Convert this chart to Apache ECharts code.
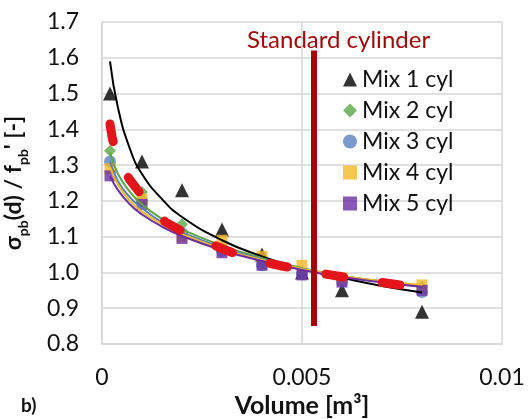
<!DOCTYPE html>
<html>
<head>
<meta charset="utf-8">
<script src="https://cdn.jsdelivr.net/npm/echarts@6/dist/echarts.min.js"></script>
<style>
	html, body { margin: 0; padding: 0; background: #fff; }
	#chart { width: 529px; height: 419px; }
</style>
</head>
<body>
<div id="chart"></div>
<script>
// 试件体积 [m3]
var volume = [0.0002, 0.001, 0.002, 0.003, 0.004, 0.005, 0.006, 0.008];
var mixNames = ['Mix 1 cyl', 'Mix 2 cyl', 'Mix 3 cyl', 'Mix 4 cyl', 'Mix 5 cyl'];
var mix1 = [1.50, 1.31, 1.23, 1.12, 1.05, 1.00, 0.95, 0.89];
var mix2 = [1.34, 1.225, 1.135, 1.07, 1.03, 1.00, 0.98, 0.96];
var mix3 = [1.31, 1.20, 1.11, 1.06, 1.02, 0.995, 0.975, 0.945];
var mix4 = [1.29, 1.205, 1.10, 1.09, 1.045, 1.02, 0.985, 0.965];
var mix5 = [1.27, 1.19, 1.095, 1.055, 1.02, 0.993, 0.973, 0.95];

// 趋势线
var fitVolume = [0.0002, 0.0004, 0.0007, 0.001, 0.0015, 0.002, 0.003, 0.004, 0.005, 0.006, 0.007, 0.008];
var fit1 = [1.59, 1.46, 1.345, 1.275, 1.205, 1.155, 1.09, 1.045, 1.01, 0.985, 0.962, 0.944];
var fit2 = [1.335, 1.275, 1.225, 1.19, 1.15, 1.12, 1.075, 1.04, 1.012, 0.99, 0.975, 0.962];
var fit3 = [1.31, 1.255, 1.21, 1.18, 1.14, 1.112, 1.07, 1.037, 1.01, 0.99, 0.974, 0.96];
var fit4 = [1.295, 1.245, 1.2, 1.17, 1.135, 1.107, 1.066, 1.035, 1.01, 0.99, 0.976, 0.965];
var fit5 = [1.27, 1.23, 1.19, 1.162, 1.128, 1.102, 1.062, 1.032, 1.007, 0.987, 0.972, 0.96];

// 红色虚线
var meanVolume = [0.0002, 0.00025, 0.0003, 0.0004, 0.0005, 0.0007, 0.001, 0.0013, 0.0016, 0.002, 0.0025, 0.003,
	0.0035, 0.004, 0.0045, 0.005, 0.0055, 0.006, 0.007, 0.0075, 0.008];
var fitMean = [1.415, 1.38, 1.355, 1.32, 1.295, 1.258, 1.215, 1.17, 1.14, 1.115, 1.09, 1.067,
	1.045, 1.03, 1.018, 1.008, 0.997, 0.988, 0.972, 0.964, 0.952];

// 标准圆柱体积
var standardVolume = [0.0053, 0.0053];
var standardRange = [1.62, 0.85];

var xTicks = { min: 0, max: 0.01, interval: 0.005 };
var yTicks = { min: 0.8, max: 1.7, interval: 0.1 };

var colors = ['#000000', '#5aa646', '#5b80c0', '#f2b824', '#6a2fa0'];
var symbols = ['triangle', 'diamond', 'circle', 'rect', 'rect'];
var symbolSizes = [14, 12, 12, 11, 11];

function pairs(xs, ys) {
	return xs.map(function(x, i) {
		return [x, ys[i]];
	});
}

function buildSeries() {
	var mixes = [mix1, mix2, mix3, mix4, mix5];
	var fits = [fit1, fit2, fit3, fit4, fit5];
	var list = [];
	mixes.forEach(function(vals, i) {
		list.push({
			name: mixNames[i],
			type: 'scatter',
			symbol: symbols[i],
			symbolSize: symbolSizes[i],
			itemStyle: { color: colors[i] },
			data: pairs(volume, vals),
			z: 2
		});
	});
	fits.forEach(function(vals, i) {
		list.push({
			type: 'line',
			smooth: true,
			showSymbol: false,
			silent: true,
			lineStyle: { color: colors[i], width: 2 },
			data: pairs(fitVolume, vals),
			z: 3
		});
	});
	// 红色粗虚线 (smooth 会让虚线每段重新开始, 所以不用)
	list.push({
		type: 'line',
		smooth: false,
		showSymbol: false,
		silent: true,
		lineStyle: { color: '#e4141b', width: 9, type: [18, 39], cap: 'round', join: 'round' },
		data: pairs(meanVolume, fitMean),
		z: 4
	});
	// 标准圆柱竖线
	list.push({
		type: 'line',
		showSymbol: false,
		silent: true,
		lineStyle: { color: '#a80008', width: 6 },
		data: pairs(standardVolume, standardRange),
		z: 5
	});
	return list;
}

function initChart() {
	var chart = echarts.init(document.getElementById('chart'));
	var font = 'Lato';
	var gridLine = { show: true, lineStyle: { color: '#d6d6d6', width: 1.5 } };
	chart.setOption({
		animation: false,
		backgroundColor: '#fff',
		textStyle: { fontFamily: font },
		grid: { left: 102, right: 27, top: 22, bottom: 75, outerBoundsMode: 'none', containLabel: false },
		legend: {
			orient: 'vertical',
			left: 338,
			top: 63,
			itemWidth: 14,
			itemHeight: 14,
			itemGap: 8,
			data: mixNames,
			textStyle: { fontSize: 23, color: '#111', lineHeight: 20, fontFamily: font }
		},
		xAxis: {
			type: 'value',
			min: xTicks.min,
			max: xTicks.max,
			interval: xTicks.interval,
			name: 'Volume [m³]',
			nameLocation: 'middle',
			nameGap: 46,
			nameTextStyle: { fontSize: 25, fontWeight: 'bold', color: '#111' },
			axisLine: { show: true, lineStyle: { color: '#d6d6d6', width: 1.5 } },
			axisTick: { show: false },
			axisLabel: { fontSize: 23, color: '#111', margin: 22 },
			splitLine: gridLine
		},
		yAxis: {
			type: 'value',
			min: yTicks.min,
			max: yTicks.max,
			interval: yTicks.interval,
			name: '{b|σ}{s|pb}{b|(d) / f}{s|pb}{b|\' [-]}',
			nameLocation: 'middle',
			nameRotate: 90,
			nameGap: 72,
			nameTextStyle: {
				fontSize: 23,
				fontWeight: 'bold',
				rich: {
					b: { fontSize: 23, fontWeight: 'bold', color: '#111', lineHeight: 32, fontFamily: font },
					s: { fontSize: 14, fontWeight: 'bold', color: '#111', lineHeight: 32, verticalAlign: 'bottom', fontFamily: font }
				}
			},
			axisLine: { show: true, lineStyle: { color: '#d6d6d6', width: 1.5 } },
			axisTick: { show: false },
			axisLabel: {
				fontSize: 23,
				color: '#111',
				margin: 23,
				formatter: function(v) { return v.toFixed(1); }
			},
			splitLine: gridLine
		},
		graphic: [
			{
				type: 'text',
				left: 247,
				top: 28,
				style: { text: 'Standard cylinder', fontSize: 24, fill: '#a00a0a', fontFamily: font }
			},
			{
				type: 'text',
				left: 21,
				top: 396,
				style: { text: 'b)', fontSize: 19, fontWeight: 'bold', fill: '#111', fontFamily: font }
			}
		],
		series: buildSeries()
	});
}

initChart();
</script>
</body>
</html>
